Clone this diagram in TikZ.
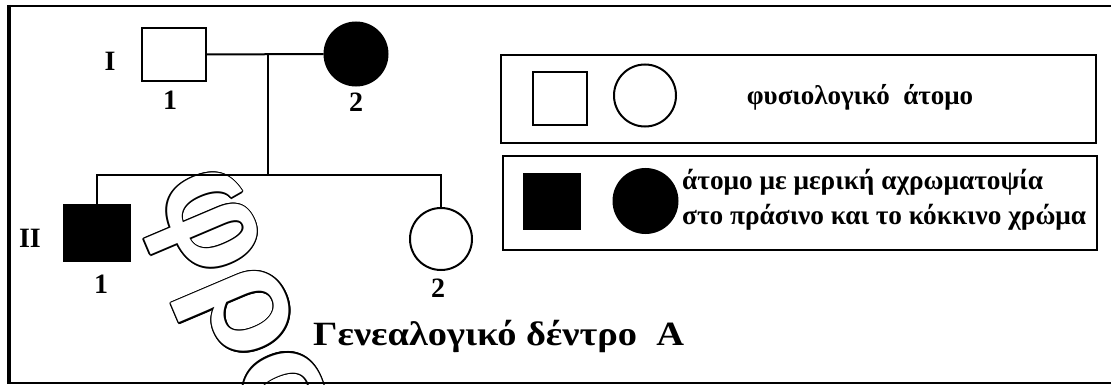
\documentclass[tikz,border=0pt]{standalone}
\usepackage{fontspec}
\setmainfont{Liberation Serif}
\newfontfamily\wmfont{Liberation Sans}
\newfontfamily\widefont[FakeStretch=1.13]{Liberation Serif}
\usetikzlibrary{calc}
\begin{document}
\begin{tikzpicture}[x=1pt,y=-1pt,
  ln/.style={line width=2pt},
  male/.style={draw,line width=2pt,minimum width=64pt,minimum height=53pt,inner sep=0pt},
  fem/.style={draw,circle,line width=2pt,minimum size=63pt,inner sep=0pt},
  aff/.style={fill=black},
  lab/.style={font=\bfseries\fontsize{28}{28}\selectfont,inner sep=0pt},
  legbox/.style={draw,line width=2.5pt,inner sep=0pt},
  legtxt/.style={font=\bfseries\fontsize{27.3}{35}\selectfont,align=left,inner sep=0pt},
  wm/.style={font=\wmfont\bfseries\fontsize{146}{146}\selectfont,rotate=-67,inner sep=0pt}
]
\useasboundingbox (0,0) rectangle (1111,385);
% watermark (outlined)
\begin{scope}
\clip (0,0) rectangle (1111,385);
\foreach \a in {0,30,...,330}{
  \node[wm,text=black] at ($(233,309)+(\a:1.3pt)$) {φρο};
}
\node[wm,text=white] (wmk) at (233,309) {φρο};
\end{scope}
% frame
\draw[line width=2.5pt] (1111,6) -- (9,6);
\draw[line width=2.5pt] (9,383) -- (1111,383);
\draw[line width=3.5pt] (9,5) -- (9,384);
% generation I
\node[male] (i1) at (174,54.5) {};
\node[fem,aff] (i2) at (356,54) {};
\node[lab] (gI) at (110,61) {I};
\node[lab] (n11) at (170,100) {1};
\node[lab] (n12) at (356,102) {2};
% generation II
\node[male,aff,minimum width=66pt,minimum height=56pt] (ii1) at (97,233) {};
\node[fem,minimum size=62pt] (ii2) at (441,239) {};
\node[lab] (gII) at (30,238) {II};
\node[lab] (n21) at (101,284) {1};
\node[lab] (n22) at (438,288) {2};
% connectors
\coordinate (m) at (268,55);
\coordinate (sib) at (268,175);
\draw[ln] (i1) -- (i2);
\draw[ln] (m) -- (sib);
\draw[ln] (ii1.north) |- (sib) -| (ii2.north);
% title
\node[font=\widefont\bfseries\fontsize{34}{34}\selectfont,inner sep=0pt,anchor=base west] (title) at (313,345) {Γενεαλογικό δέντρο\ \ Α};
% legend
\node[legbox,minimum width=595pt,minimum height=88pt] (lb1) at (798.5,99) {};
\node[legbox,minimum width=594pt,minimum height=94pt] (lb2) at (800,203) {};
\node[male,minimum width=54pt,minimum height=53pt] (ls1) at (560,98.5) {};
\node[fem,minimum size=62pt] (lc1) at (645,95.5) {};
\node[male,aff,minimum width=56pt,minimum height=55pt] (ls2) at (552,201.5) {};
\node[fem,aff,minimum size=64pt] (lc2) at (645.5,201) {};
\node[legtxt,font=\bfseries\fontsize{27}{30}\selectfont] (lt1) at (860,97) {φυσιολογικό\ \ άτομο};
\node[legtxt,anchor=west] (lt2) at (682,200) {άτομο με μερική αχρωματοψία\\στο πράσινο και το κόκκινο χρώμα};
\end{tikzpicture}
\end{document}
